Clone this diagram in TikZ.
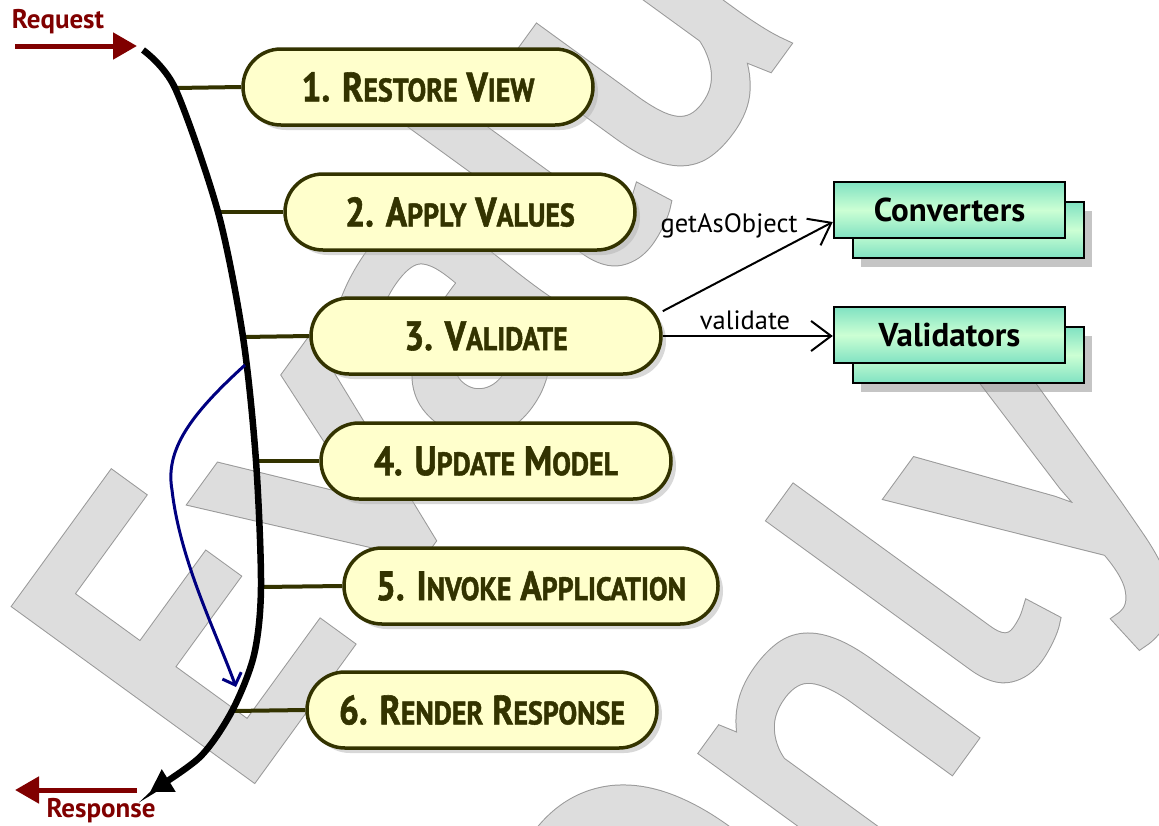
\documentclass[tikz,border=0pt]{standalone}
\usepackage{fontspec}
\setmainfont{PT Sans}
\newfontfamily\phasefont[FakeStretch=0.86,FakeBold=1.4]{PT Sans}
\usepackage{tikz}
\usetikzlibrary{arrows.meta,positioning,calc,shadows}
\definecolor{olivec}{HTML}{333300}
\definecolor{pillbg}{HTML}{FFFFCC}
\definecolor{reqc}{HTML}{800000}
\definecolor{flowc}{HTML}{000080}
\definecolor{mintd}{HTML}{80E2C2}
\definecolor{mintl}{HTML}{CCFFD4}
\definecolor{wmfill}{HTML}{DDDDDD}
\tikzset{
  phase/.style={rectangle,rounded corners=38pt,draw=olivec,line width=3.5pt,fill=pillbg,text=olivec,
    minimum width=350pt,minimum height=76pt,inner xsep=32pt,
    font=\phasefont\bfseries\fontsize{41pt}{41pt}\selectfont,
    drop shadow={shadow xshift=5pt,shadow yshift=-5pt,fill=black!30}},
  stub/.style={olivec,line width=4pt},
  helper/.style={draw=black,line width=2.5pt,top color=mintd,bottom color=mintd,middle color=mintl,
    minimum width=231pt,minimum height=56pt,font=\bfseries\fontsize{33pt}{33pt}\selectfont},
  call/.style={-{Straight Barb[length=20pt,width=30pt]},line width=2pt},
  io/.style={reqc,line width=5pt,-{Triangle[length=24pt,width=26pt]}},
  iolbl/.style={text=reqc,font=\bfseries\fontsize{27pt}{27pt}\selectfont},
  msg/.style={font=\fontsize{26.5pt}{26.5pt}\selectfont},
  wm/.style={rotate=54,anchor=base west,text=wmfill,inner sep=0pt,font=\fontsize{410pt}{410pt}\selectfont}
}
% small caps faked by a smaller size
\newcommand{\smcp}[1]{{\fontsize{32.5pt}{32.5pt}\selectfont #1}}
% glyphs filled and stroked: a wide grey rim, then a slightly narrower light one
\newcommand{\wmrim}{\special{pdf:literal direct 0.6 G 15 w 2 Tr}}
\newcommand{\wmbody}{\special{pdf:literal direct 0.867 G 13 w 2 Tr}}
\newcommand{\wmplain}{\special{pdf:literal direct 0 Tr}}

\begin{document}
\begin{tikzpicture}[x=1pt,y=-1pt]
\useasboundingbox (0,0) rectangle (1159,825);
% watermark
\node[wm] (wmA) at (232.6,802) {\wmrim Evaluation\wmplain};
\node[wm] (wmAf) at (232.6,802) {\wmbody Evaluation\wmplain};
\node[wm] (wmB) at (690,1125) {\wmrim Only\wmplain};
\node[wm] (wmBf) at (690,1125) {\wmbody Only\wmplain};

% phases
\node[phase] (p1) at (418,87) {1. R\smcp{ESTORE} V\smcp{IEW}};
\node[phase] (p2) at (460,212) {2. A\smcp{PPLY} V\smcp{ALUES}};
\node[phase] (p3) at (486,336) {3. V\smcp{ALIDATE}};
\node[phase] (p4) at (496,461) {4. U\smcp{PDATE} M\smcp{ODEL}};
\node[phase] (p5) at (531,586) {5. I\smcp{NVOKE} A\smcp{PPLICATION}};
\node[phase] (p6) at (482,710) {6. R\smcp{ENDER} R\smcp{ESPONSE}};

% lifecycle line
\coordinate (rq) at (143,50);
\coordinate (t1) at (175,88);
\coordinate (t2) at (218,212);
\coordinate (t3) at (243,337);
\coordinate (t4) at (256,461);
\coordinate (t5) at (261,587);
\coordinate (k1) at (254,655);
\coordinate (t6) at (232,711);
\coordinate (k2) at (200,757);
\coordinate (rs) at (150,792);
\foreach \i in {1,...,6} \draw[stub] (t\i) -- (p\i.west);
\draw[line width=6.5pt,-{Triangle[length=22pt,width=25pt]}]
  plot[smooth,tension=0.5] coordinates {(rq) (t1) (t2) (t3) (t4) (t5) (k1) (t6) (k2) (rs)};

% skip to render
\coordinate (bs) at (245,365);
\coordinate (be) at (236,687);
\draw[flowc,line width=3pt,-{Straight Barb[length=10pt,width=20pt]}]
  (bs) .. controls (190,415) and (165,450) .. (172,490) .. controls (180,560) and (215,630) .. (be);

% request / response
\coordinate (reqa) at (15,46);
\coordinate (reqb) at (137,46);
\draw[io] (reqa) -- (reqb);
\node[iolbl] (reqlbl) at (58,22) {Request};
\coordinate (resa) at (137,790);
\coordinate (resb) at (15,790);
\draw[io] (resa) -- (resb);
\node[iolbl] (reslbl) at (101,811) {Response};

% converters and validators
\node[helper,drop shadow={shadow xshift=8pt,shadow yshift=-9pt,fill=black!45}] (convb) at (968.5,230) {};
\node[helper] (conv) at (949.5,210) {Converters};
\node[helper,drop shadow={shadow xshift=8pt,shadow yshift=-9pt,fill=black!45}] (valb) at (968.5,355) {};
\node[helper] (val) at (949.5,335) {Validators};

\draw[call] (p3.8) -- ([yshift=-12pt]conv.west);
\draw[call] (p3.east) -- (p3.east -| val.west);
\node[msg,anchor=east] (getlbl) at (801,226) {getAsObject};
\node[msg] (vallbl) at (745,320) {validate};
\end{tikzpicture}
\end{document}
